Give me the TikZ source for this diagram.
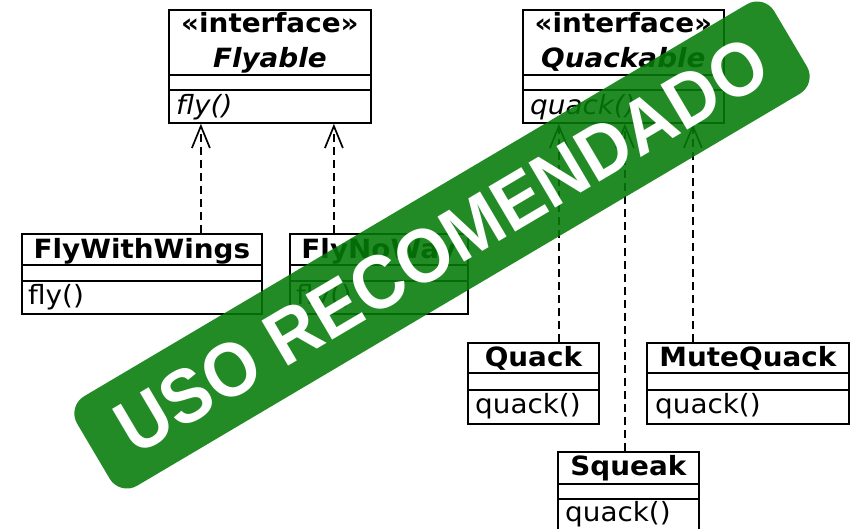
\documentclass[tikz,border=0pt]{standalone}
\usepackage{fontspec}
\setmainfont{DejaVu Sans}[FakeStretch=1.05]
\newfontfamily\bannerfont{Liberation Sans}[FakeStretch=0.93]
\usetikzlibrary{arrows.meta}
\definecolor{bannergreen}{RGB}{5,124,8}
\newcommand\umlclassbox[7]{%
  \node[classbox, minimum width=#4pt, minimum height=#5pt] (#1) at (#2,#3) {};
  \draw[sepline] ([yshift=-#6pt]#1.north west) -- ([yshift=-#6pt]#1.north east);
  \draw[sepline] ([yshift=-#7pt]#1.north west) -- ([yshift=-#7pt]#1.north east);
}
\begin{document}
\begin{tikzpicture}[x=1pt,y=-1pt,
  classbox/.style={draw, line width=1.8pt, fill=white, anchor=north west, inner sep=0pt},
  sepline/.style={line width=1.8pt},
  ctitle/.style={font=\fontsize{26.5}{30}\selectfont\bfseries, inner sep=0pt, anchor=base},
  cititle/.style={font=\fontsize{26.5}{30}\selectfont\bfseries\itshape, inner sep=0pt, anchor=base},
  cmethod/.style={font=\fontsize{26.5}{30}\selectfont, inner sep=0pt, anchor=base west},
  cimethod/.style={font=\fontsize{26.5}{30}\selectfont\itshape, inner sep=0pt, anchor=base west},
  realize/.style={line width=1.8pt, dash pattern=on 8pt off 5pt, -{Straight Barb[length=22pt,width=18pt,line width=1.7pt]}},
  banner/.style={fill=bannergreen, fill opacity=0.88, text opacity=1, text=white,
    minimum width=810pt, minimum height=104pt, rounded corners=20pt, inner sep=0pt,
    font=\bannerfont\bfseries\fontsize{76}{76}\selectfont}]
\useasboundingbox (0,0) rectangle (852,528);
\clip (0,0) rectangle (852,528);
\fill[white] (0,0) rectangle (852,528);

% interfaces
\umlclassbox{fly}{168}{9}{202}{113}{66}{81}
\node[ctitle] (flyst) at ([yshift=-23pt]fly.north) {«interface»};
\node[cititle] (flyname) at ([yshift=-58pt]fly.north) {Flyable};
\node[cimethod] (flyop) at ([xshift=8pt,yshift=-105pt]fly.north west) {fly()};

\umlclassbox{qua}{522}{9}{201}{113}{66}{81}
\node[ctitle] (quast) at ([yshift=-23pt]qua.north) {«interface»};
\node[cititle] (quaname) at ([yshift=-58pt]qua.north) {Quackable};
\node[cimethod] (quaop) at ([xshift=8pt,yshift=-105pt]qua.north west) {quack()};

% fly implementations
\umlclassbox{fww}{21}{233}{240}{80}{32}{48}
\node[ctitle] (fwwname) at ([yshift=-25pt]fww.north) {FlyWithWings};
\node[cmethod] (fwwop) at ([xshift=7pt,yshift=-71pt]fww.north west) {fly()};

\umlclassbox{fnw}{289}{233}{178}{80}{32}{48}
\node[ctitle] (fnwname) at ([yshift=-25pt]fnw.north) {FlyNoWay};
\node[cmethod] (fnwop) at ([xshift=7pt,yshift=-71pt]fnw.north west) {fly()};

% quack implementations
\umlclassbox{qk}{467}{342}{131}{81}{31}{48}
\node[ctitle] (qkname) at ([yshift=-24pt]qk.north) {Quack};
\node[cmethod] (qkop) at ([xshift=8pt,yshift=-71pt]qk.north west) {quack()};

\umlclassbox{mq}{646}{342}{202}{81}{31}{48}
\node[ctitle] (mqname) at ([yshift=-24pt]mq.north) {MuteQuack};
\node[cmethod] (mqop) at ([xshift=9pt,yshift=-71pt]mq.north west) {quack()};

\umlclassbox{sq}{557}{451}{141}{89}{33}{48}
\node[ctitle] (sqname) at ([yshift=-24pt]sq.north) {Squeak};
\node[cmethod] (sqop) at ([xshift=8pt,yshift=-70pt]sq.north west) {quack()};

% realizations
\draw[realize] ([xshift=59pt]fww.north) -- ([xshift=59pt]fww.north |- fly.south);
\draw[realize] ([xshift=-45pt]fnw.north) -- ([xshift=-45pt]fnw.north |- fly.south);
\draw[realize] ([xshift=25.5pt]qk.north) -- ([xshift=25.5pt]qk.north |- qua.south);
\draw[realize] ([xshift=-3.5pt]sq.north) -- ([xshift=-3.5pt]sq.north |- qua.south);
\draw[realize] ([xshift=-55pt]mq.north) -- ([xshift=-55pt]mq.north |- qua.south);

% banner
\node[banner, rotate=30.6] (ban) at (442,245) {USO RECOMENDADO};
\end{tikzpicture}
\end{document}
